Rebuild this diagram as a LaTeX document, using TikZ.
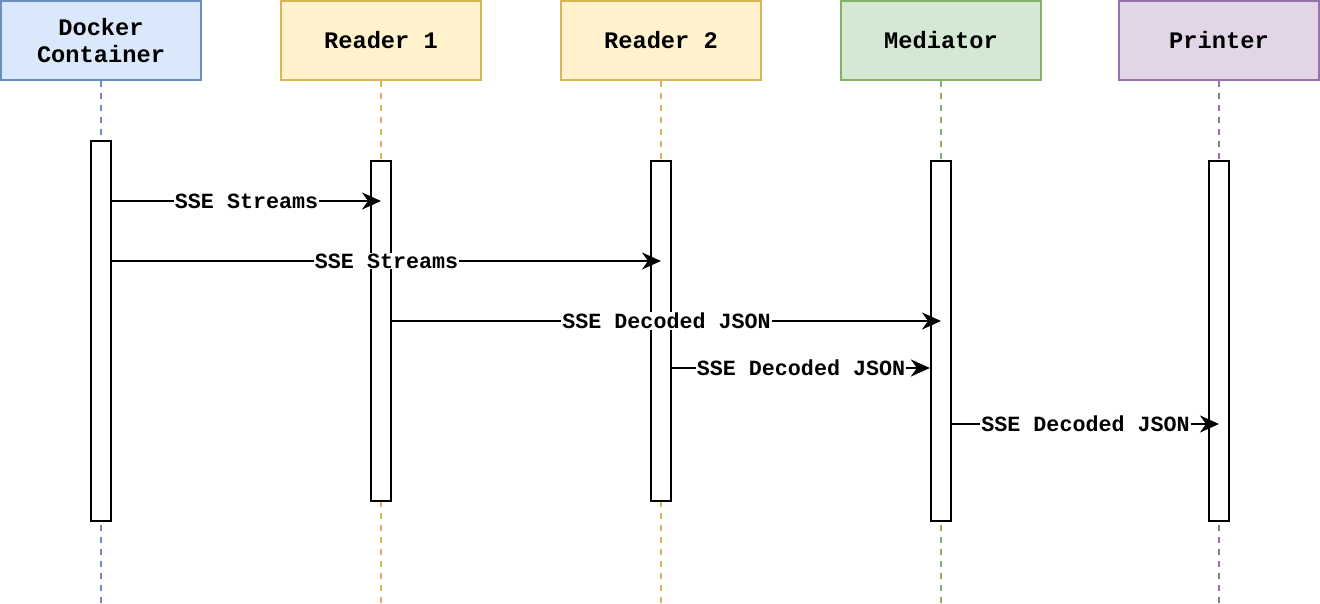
\documentclass[tikz,border=0pt]{standalone}
\usepackage{fontspec}
\setmonofont{Liberation Mono}
\usetikzlibrary{arrows.meta}
\definecolor{bfill}{HTML}{DAE8FC}\definecolor{bline}{HTML}{6C8EBF}
\definecolor{yfill}{HTML}{FFF2CC}\definecolor{yline}{HTML}{D6B656}
\definecolor{gfill}{HTML}{D5E8D4}\definecolor{gline}{HTML}{82B366}
\definecolor{pfill}{HTML}{E1D5E7}\definecolor{pline}{HTML}{9673A6}
\tikzset{
  hdr/.style={draw=#1line, fill=#1fill, line width=2pt, minimum width=200pt, minimum height=79pt, inner sep=0pt, align=center, font=\fontsize{23.7}{27.5}\selectfont\ttfamily\bfseries},
  life/.style={draw=#1line, line width=2pt, dash pattern=on 6pt off 6pt},
  act/.style={draw=black, fill=white, line width=2.2pt, minimum width=20pt, inner sep=0pt},
  msg/.style={draw=black, line width=2.2pt, -{Stealth[length=19pt,width=17pt,inset=6pt]}},
  lbl/.style={fill=white, inner sep=1pt, font=\fontsize{21.7}{24}\selectfont\ttfamily\bfseries}
}
\begin{document}
\begin{tikzpicture}[x=1pt,y=-1pt]
\useasboundingbox (0,0) rectangle (1320,604);
% headers
\node[hdr=b] (h1) at (101,40.5) {Docker\\Container};
\node[hdr=y] (h2) at (381,40.5) {Reader 1};
\node[hdr=y] (h3) at (661,40.5) {Reader 2};
\node[hdr=g] (h4) at (941,40.5) {Mediator};
\node[hdr=p] (h5) at (1219,40.5) {Printer};
% lifeline ends
\coordinate (e1) at (101,604);
\coordinate (e2) at (381,604);
\coordinate (e3) at (661,604);
\coordinate (e4) at (941,604);
\coordinate (e5) at (1219,604);
\draw[life=b] (h1.south) -- (e1);
\draw[life=y] (h2.south) -- (e2);
\draw[life=y] (h3.south) -- (e3);
\draw[life=g] (h4.south) -- (e4);
\draw[life=p] (h5.south) -- (e5);
% activations
\node[act, minimum height=380pt] (a1) at (101,331) {};
\node[act, minimum height=340pt] (a2) at (381,331) {};
\node[act, minimum height=340pt] (a3) at (661,331) {};
\node[act, minimum height=360pt] (a4) at (941,341) {};
\node[act, minimum height=360pt] (a5) at (1219,341) {};
% messages
\draw[msg] (a1.east |- 0,201) -- node[lbl]{SSE Streams} (a2.center |- 0,201);
\draw[msg] (a1.east |- 0,261) -- node[lbl]{SSE Streams} (a3.center |- 0,261);
\draw[msg] (a2.east |- 0,321) -- node[lbl]{SSE Decoded JSON} (a4.center |- 0,321);
\draw[msg] (a3.east |- 0,368) -- node[lbl]{SSE Decoded JSON} (a4.west |- 0,368);
\draw[msg] (a4.east |- 0,424) -- node[lbl]{SSE Decoded JSON} (a5.center |- 0,424);
\end{tikzpicture}
\end{document}
